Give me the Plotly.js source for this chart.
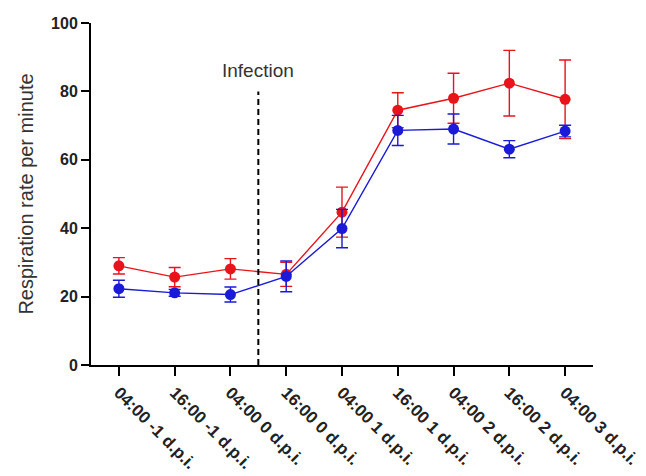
<!DOCTYPE html>
<html>
<head>
<meta charset="utf-8">
<script src="https://cdn.plot.ly/plotly-3.0.1.min.js"></script>
<style>html,body{margin:0;padding:0;background:#fff;}#chart{width:646px;height:476px;}</style>
</head>
<body>
<div id="chart"></div>
<script>
const categories = ["04:00 -1 d.p.i.", "16:00 -1 d.p.i.", "04:00 0 d.p.i.", "16:00 0 d.p.i.", "04:00 1 d.p.i.", "16:00 1 d.p.i.", "04:00 2 d.p.i.", "16:00 2 d.p.i.", "04:00 3 d.p.i."];
const redValues = [29.0, 25.7, 28.1, 26.5, 44.7, 74.5, 78.0, 82.4, 77.7];
const redErrors = [2.4, 2.8, 3.0, 3.5, 7.3, 5.1, 7.3, 9.6, 11.5];
const blueValues = [22.3, 21.1, 20.6, 25.9, 39.9, 68.6, 69.0, 63.1, 68.4];
const blueErrors = [2.5, 1.0, 2.2, 4.5, 5.6, 4.4, 4.4, 2.5, 1.7];
const yTicks = [0, 20, 40, 60, 80, 100];
const infectionIndex = 2.5;
const infectionTop = 80;
const infectionLabel = "Infection";
const yTitle = "Respiration rate per minute";

const idx = categories.map((c, i) => i);

const red = {
  x: idx, y: redValues, type: 'scatter', mode: 'lines+markers',
  line: {color: '#e8141c', width: 1.4},
  marker: {color: '#e8141c', size: 11},
  error_y: {type: 'data', array: redErrors, visible: true, color: '#e8141c', thickness: 1.4, width: 6},
  showlegend: false, cliponaxis: false
};
const blue = {
  x: idx, y: blueValues, type: 'scatter', mode: 'lines+markers',
  line: {color: '#1a1ad8', width: 1.4},
  marker: {color: '#1a1ad8', size: 11},
  error_y: {type: 'data', array: blueErrors, visible: true, color: '#1a1ad8', thickness: 1.4, width: 6},
  showlegend: false, cliponaxis: false
};

const layout = {
  width: 646, height: 476,
  margin: {l: 91, r: 53, t: 23, b: 111},
  paper_bgcolor: '#fff', plot_bgcolor: '#fff',
  font: {family: 'Liberation Sans, Arial, sans-serif', color: '#000'},
  xaxis: {
    range: [-0.5, 8.5], tickmode: 'array', tickvals: idx, ticktext: categories,
    tickangle: 45, ticks: 'outside', ticklen: 9, tickwidth: 2, tickcolor: '#000',
    showline: true, linecolor: '#000', linewidth: 2, showgrid: false, zeroline: false,
    tickfont: {size: 17, weight: 'bold', color: '#222'}
  },
  yaxis: {
    range: [0, 100], tickmode: 'array', tickvals: yTicks,
    ticks: 'outside', ticklen: 8, tickwidth: 2, tickcolor: '#000',
    showline: true, linecolor: '#000', linewidth: 2, showgrid: false, zeroline: false,
    tickfont: {size: 16, weight: 'bold', color: '#222'},
    title: {text: yTitle, font: {size: 20, color: '#333'}, standoff: 12}
  },
  shapes: [{
    type: 'line', xref: 'x', yref: 'y', x0: infectionIndex, x1: infectionIndex, y0: 0, y1: infectionTop,
    line: {color: '#000', width: 2, dash: '6px,4px'}
  }],
  annotations: [{
    x: infectionIndex, y: 86, xref: 'x', yref: 'y', text: infectionLabel, showarrow: false,
    font: {size: 19, color: '#333'}
  }]
};

Plotly.newPlot('chart', [red, blue], layout, {displayModeBar: false, staticPlot: true});
</script>
</body>
</html>
